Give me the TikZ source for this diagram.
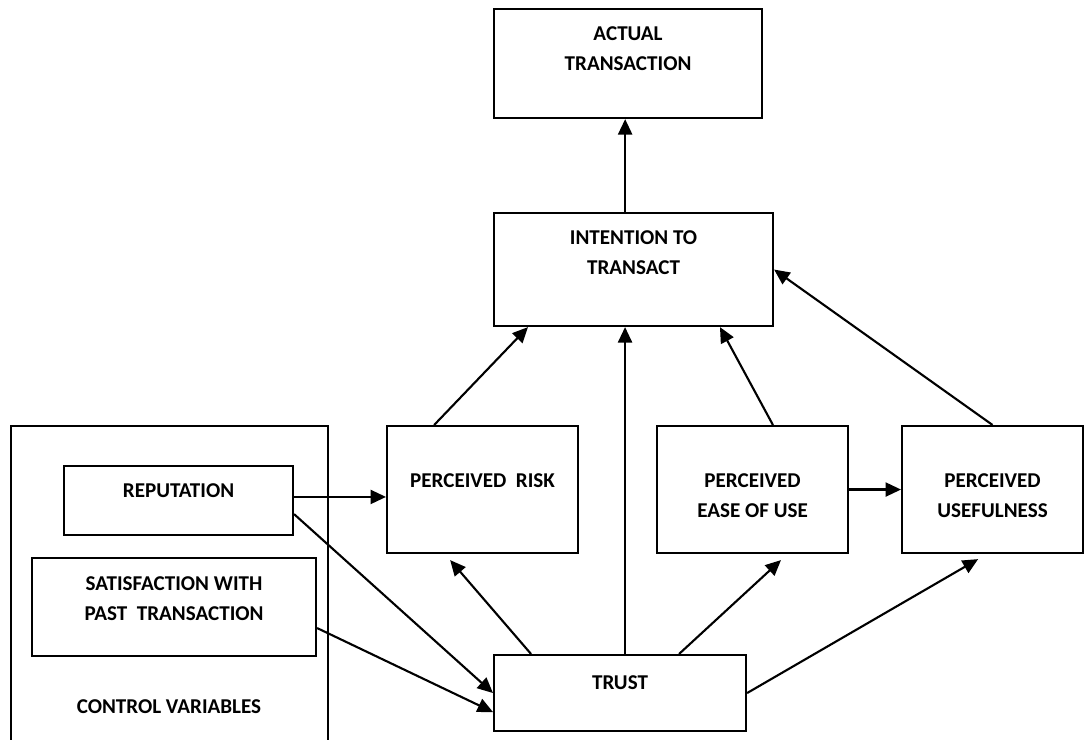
\documentclass[tikz,border=0pt]{standalone}
\usepackage{fontspec}
\setmainfont{Carlito}
\usetikzlibrary{positioning,arrows.meta}

\tikzset{
  box/.style={draw, line width=1.5pt, anchor=north west, inner sep=0pt},
  lbl/.style={font=\fontsize{15}{21.3}\selectfont\bfseries, align=center, inner sep=0pt},
  arr/.style={line width=1.5pt, -{Triangle[length=11pt,width=10pt]}}
}

\begin{document}
\begin{tikzpicture}
        \useasboundingbox (0,0) rectangle (27.15,18.5);

        \node[box, minimum width=6.7cm, minimum height=2.725cm] (act) at (12.325,18.3) {};
        \node[box, minimum width=6.975cm, minimum height=2.825cm] (int) at (12.325,13.2) {};
        \node[box, minimum width=4.775cm, minimum height=3.175cm] (risk) at (9.65,7.875) {};
        \node[box, minimum width=4.775cm, minimum height=3.175cm] (ease) at (16.4,7.875) {};
        \node[box, minimum width=4.525cm, minimum height=3.175cm] (use) at (22.525,7.875) {};
        \node[box, minimum width=6.3cm, minimum height=1.9cm] (trust) at (12.325,2.15) {};
        \node[box, minimum width=5.725cm, minimum height=1.725cm] (rep) at (1.575,6.875) {};
        \node[box, minimum width=7.1cm, minimum height=2.45cm] (sat) at (0.775,4.575) {};
        \draw[line width=1.5pt] (0.275,0) |- (8.2,7.85) -- (8.2,0);

        \node[lbl, below=0.45cm of act.north] (actT) {ACTUAL\\TRANSACTION};
        \node[lbl, below=0.45cm of int.north] (intT) {INTENTION TO\\TRANSACT};
        \node[lbl, below=1.2cm of risk.north] (riskT) {PERCEIVED\ \ RISK};
        \node[lbl, below=1.2cm of ease.north] (easeT) {PERCEIVED\\EASE OF USE};
        \node[lbl, below=1.2cm of use.north] (useT) {PERCEIVED\\USEFULNESS};
        \node[lbl, below=0.525cm of trust.north] (trustT) {TRUST};
        \node[lbl, below=0.45cm of rep.north] (repT) {REPUTATION};
        \node[lbl, below=0.475cm of sat.north] (satT) {SATISFACTION WITH\\PAST\ \ TRANSACTION};
        \node[lbl] (ctrlT) at (4.225,0.825) {CONTROL VARIABLES};

        \draw[arr] ([xshift=-0.21cm]int.north) -- ([xshift=-0.21cm]int.north |- act.south);
        \draw[arr] ([xshift=-1.21cm]risk.north) -- ([xshift=-2.64cm]int.south);
        \draw[arr] ([xshift=0.125cm]trust.north) -- ([xshift=0.125cm]trust.north |- int.south);
        \draw[arr] ([xshift=0.51cm]ease.north) -- ([xshift=2.16cm]int.south);
        \draw[arr] (use.north) -- (int.east);
        \draw[arr] ([yshift=0.09cm]rep.east) -- ([yshift=0.09cm]rep.east -| risk.west);
        \draw[arr] (ease.east) -- (ease.east -| use.west);
        \draw[arr] ([xshift=-2.225cm]trust.north) -- ([xshift=-0.81cm,yshift=-0.15cm]risk.south);
        \draw[arr] ([xshift=1.475cm]trust.north) -- ([xshift=0.71cm,yshift=-0.15cm]ease.south);
        \draw[arr] (trust.east) -- ([xshift=-0.36cm,yshift=-0.125cm]use.south);
        \draw[arr] ([yshift=-0.34cm]rep.east) -- (trust.west);
        \draw[arr] ([yshift=-0.525cm]sat.east) -- ([yshift=-0.475cm]trust.west);
\end{tikzpicture}
\end{document}
